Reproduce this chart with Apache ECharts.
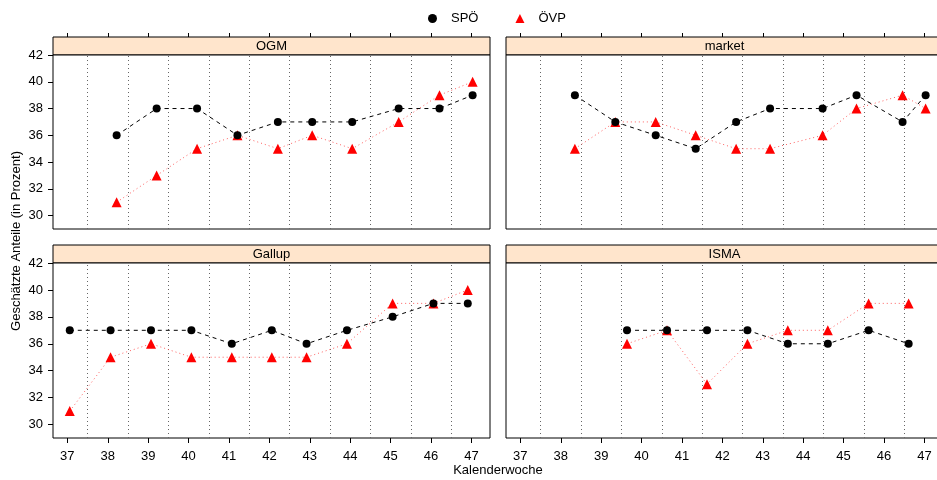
<!DOCTYPE html>
<html>
<head>
<meta charset="utf-8">
<script src="https://cdn.jsdelivr.net/npm/echarts@6/dist/echarts.min.js"></script>
<style>
  html, body { margin: 0; padding: 0; background: #fff; }
  #chart { width: 937px; height: 480px; }
</style>
</head>
<body>
<div id="chart"></div>
<script>
// Kalenderwochen (Position der Umfrage innerhalb der Woche) und Werte je Institut
const ogmWeeks = [38.22, 39.21, 40.21, 41.21, 42.21, 43.06, 44.05, 45.20, 46.21, 47.03];
const ogmSPOE = [36, 38, 38, 36, 37, 37, 37, 38, 38, 39];
const ogmOEVP = [31, 33, 35, 36, 35, 36, 35, 37, 39, 40];

const marketWeeks = [38.35, 39.35, 40.35, 41.34, 42.34, 43.18, 44.48, 45.32, 46.46, 47.03];
const marketSPOE = [39, 37, 36, 35, 37, 38, 38, 39, 37, 39];
const marketOEVP = [35, 37, 37, 36, 35, 35, 36, 38, 39, 38];

const gallupWeeks = [37.06, 38.07, 39.07, 40.07, 41.07, 42.06, 42.92, 43.92, 45.05, 46.06, 46.91];
const gallupSPOE = [37, 37, 37, 37, 36, 37, 36, 37, 38, 39, 39];
const gallupOEVP = [31, 35, 36, 35, 35, 35, 35, 36, 39, 39, 40];

const ismaWeeks = [39.64, 40.63, 41.62, 42.62, 43.62, 44.61, 45.62, 46.61];
const ismaSPOE = [37, 37, 37, 37, 36, 36, 37, 36];
const ismaOEVP = [36, 37, 33, 36, 37, 37, 39, 39];

// Achsen
const weekTicks = [37, 38, 39, 40, 41, 42, 43, 44, 45, 46, 47];
const weekBoundaries = [37.5, 38.5, 39.5, 40.5, 41.5, 42.5, 43.5, 44.5, 45.5, 46.5];
const percentTicks = [30, 32, 34, 36, 38, 40, 42];

const panels = [
  { name: 'OGM', weeks: ogmWeeks, spoe: ogmSPOE, oevp: ogmOEVP },
  { name: 'market', weeks: marketWeeks, spoe: marketSPOE, oevp: marketOEVP },
  { name: 'Gallup', weeks: gallupWeeks, spoe: gallupSPOE, oevp: gallupOEVP },
  { name: 'ISMA', weeks: ismaWeeks, spoe: ismaSPOE, oevp: ismaOEVP }
];

const FONT = 'Liberation Sans, Arial, Helvetica, sans-serif';
const XMIN = 36.645, XMAX = 47.46;
const YMIN = 29, YMAX = 42;

// Panel-Geometrie (links / rechts, oben / unten); rechte Spalte ragt über den Rand
const cols = [{ left: 53, right: 447, cx: 271.5 }, { left: 506, right: -6, cx: 724.5 }];
const rows = [{ top: 55, height: 174 }, { top: 263, height: 175 }];
const stripH = 18;
const tickLen = 4;

let grid = [], xAxis = [], yAxis = [], series = [], graphic = [];

// Streifen mit Institutsnamen
panels.forEach(function (p, i) {
  let c = cols[i % 2], r = rows[Math.floor(i / 2)];
  let gi = grid.length;
  grid.push({ left: c.left, right: c.right, top: r.top - stripH, height: stripH,
    outerBoundsMode: 'none', z: -1,
    show: true, borderColor: '#000', borderWidth: 1, backgroundColor: '#ffe5cc' });
  xAxis.push({ type: 'value', gridIndex: gi, min: XMIN, max: XMAX, show: false });
  yAxis.push({ type: 'value', gridIndex: gi, min: 0, max: 1, show: false });
  graphic.push({
    type: 'text', x: c.cx, y: r.top - stripH / 2,
    style: { text: p.name, align: 'center', verticalAlign: 'middle', fill: '#000', font: '13px ' + FONT }
  });
});

// obere Reihe: Ticks oberhalb der Streifen (schmales Band, Ticks nach oben)
[0, 1].forEach(function (i) {
  let c = cols[i], r = rows[0];
  let gi = grid.length;
  grid.push({ left: c.left, right: c.right, top: r.top - stripH - tickLen, height: tickLen,
    outerBoundsMode: 'none', show: false });
  xAxis.push({
    type: 'value', gridIndex: gi, min: XMIN, max: XMAX, position: 'bottom',
    axisLine: { show: false },
    axisTick: { show: true, inside: true, customValues: weekTicks, length: tickLen,
      lineStyle: { color: '#000', width: 1 } },
    axisLabel: { show: false },
    splitLine: { show: false }
  });
  yAxis.push({ type: 'value', gridIndex: gi, min: 0, max: 1, show: false });
});

panels.forEach(function (p, i) {
  let c = cols[i % 2], r = rows[Math.floor(i / 2)];
  let isBottom = i >= 2, isLeft = i % 2 === 0;
  let gi = grid.length;

  // Datenfeld
  grid.push({ left: c.left, right: c.right, top: r.top, height: r.height,
    outerBoundsMode: 'none',
    show: true, borderColor: '#000', borderWidth: 1, backgroundColor: '#fff' });
  xAxis.push({
    type: 'value', gridIndex: gi, min: XMIN, max: XMAX, position: 'bottom',
    axisLine: { show: false },
    axisTick: { show: isBottom, customValues: weekTicks, length: 5, lineStyle: { color: '#000' } },
    axisLabel: { show: isBottom, customValues: weekTicks, margin: 12, color: '#000',
      fontFamily: FONT, fontSize: 13 },
    splitLine: { show: false }
  });
  yAxis.push({
    type: 'value', gridIndex: gi, min: YMIN, max: YMAX,
    axisLine: { show: false },
    axisTick: { show: isLeft, customValues: percentTicks, length: 5, lineStyle: { color: '#000' } },
    axisLabel: { show: isLeft, customValues: percentTicks, margin: 10, color: '#000',
      fontFamily: FONT, fontSize: 13 },
    splitLine: { show: false }
  });

  series.push({
    name: 'SPÖ', type: 'line', xAxisIndex: gi, yAxisIndex: gi,
    data: p.weeks.map(function (w, j) { return [w, p.spoe[j]]; }),
    symbol: 'circle', symbolSize: 8,
    itemStyle: { color: '#000' },
    lineStyle: { color: '#000', width: 1, type: [4, 4] },
    z: 3,
    markLine: {
      silent: true, symbol: ['none', 'none'], label: { show: false },
      lineStyle: { color: '#666', width: 1, type: [1, 3] },
      data: weekBoundaries.map(function (b) { return { xAxis: b }; }),
      z: 1
    }
  });
  series.push({
    name: 'ÖVP', type: 'line', xAxisIndex: gi, yAxisIndex: gi,
    data: p.weeks.map(function (w, j) { return [w, p.oevp[j]]; }),
    symbol: 'triangle', symbolSize: 10,
    itemStyle: { color: '#ff0000' },
    lineStyle: { color: 'rgba(255,80,80,0.9)', width: 1, type: [1, 3] },
    z: 2
  });
});

// Achsentitel
graphic.push({
  type: 'text', x: 16, y: 241, rotation: Math.PI / 2,
  style: { text: 'Geschätzte Anteile (in Prozent)', align: 'center', verticalAlign: 'middle',
    fill: '#000', font: '13px ' + FONT }
});
graphic.push({
  type: 'text', x: 498, y: 470,
  style: { text: 'Kalenderwoche', align: 'center', verticalAlign: 'middle',
    fill: '#000', font: '13px ' + FONT }
});

var myChart = echarts.init(document.getElementById('chart'));
myChart.setOption({
  animation: false,
  legend: {
    left: 423, top: 7, itemWidth: 9, itemHeight: 9, itemGap: 37,
    data: [
      { name: 'SPÖ', icon: 'circle', itemStyle: { color: '#000' } },
      { name: 'ÖVP', icon: 'triangle', itemStyle: { color: '#ff0000' } }
    ],
    textStyle: { color: '#000', fontFamily: FONT, fontSize: 13, padding: [0, 0, 0, 9] }
  },
  grid: grid,
  xAxis: xAxis,
  yAxis: yAxis,
  series: series,
  graphic: graphic
});
</script>
</body>
</html>
